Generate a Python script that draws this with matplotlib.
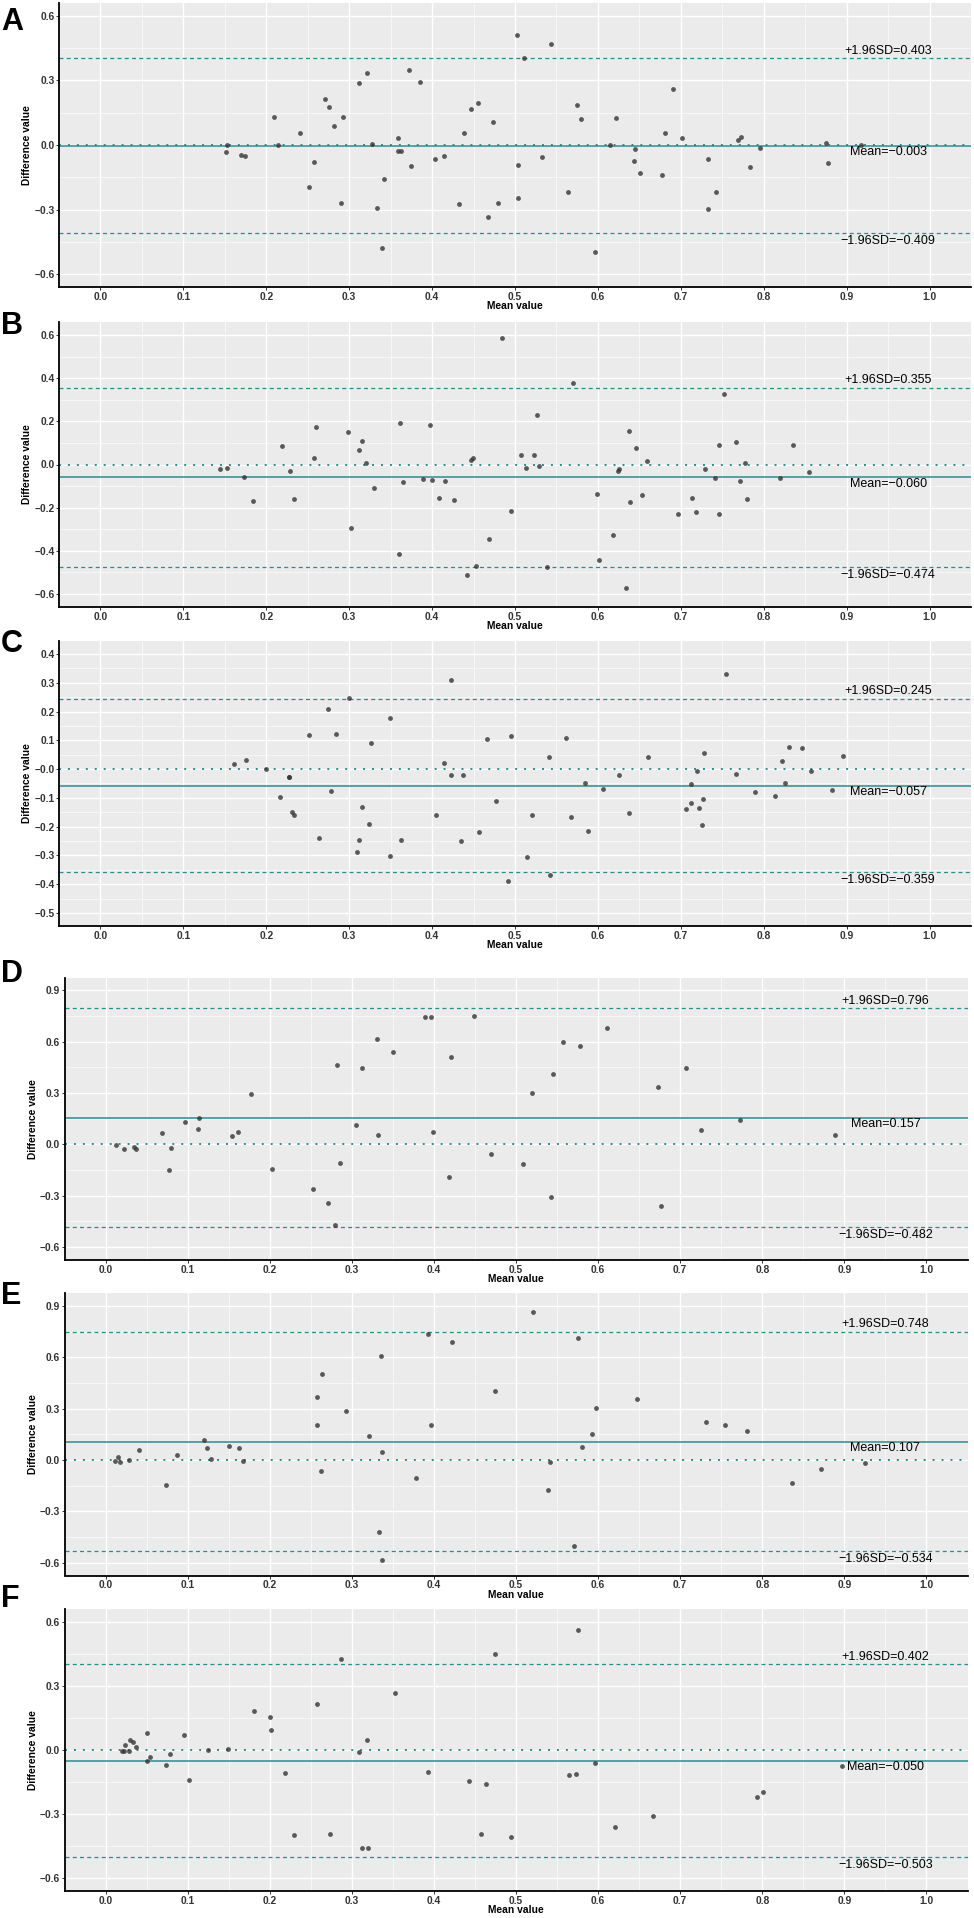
"""Bland-Altman agreement plots, panels A-F."""

from __future__ import annotations

import matplotlib

matplotlib.use("Agg")

import matplotlib.pyplot as plt
import numpy as np

plt.rcParams["font.family"] = ["Liberation Sans", "DejaVu Sans"]

W, H, DPI = 974, 1918, 100
TEAL = "#2B8C8C"
PANEL_BG = "#EBEBEB"
TEXT_GREY = "#333333"

# ---- data --------------------------------------------------------------------
A_MEAN = [0.151, 0.153, 0.169, 0.174, 0.209, 0.214, 0.241, 0.251, 0.257, 0.271,
          0.276, 0.282, 0.290, 0.292, 0.312, 0.322, 0.328, 0.333, 0.339, 0.342,
          0.359, 0.359, 0.363, 0.372, 0.374, 0.385, 0.403, 0.414, 0.433, 0.439,
          0.447, 0.455, 0.468, 0.473, 0.480, 0.503, 0.504, 0.504, 0.511, 0.533,
          0.543, 0.564, 0.575, 0.580, 0.596, 0.614, 0.622, 0.643, 0.645, 0.651,
          0.677, 0.681, 0.690, 0.702, 0.733, 0.733, 0.743, 0.769, 0.773, 0.784,
          0.795, 0.875, 0.878, 0.917]
A_DIFF = [-0.034, -0.002, -0.045, -0.052, 0.131, 0.002, 0.058, -0.194, -0.080, 0.214,
          0.175, 0.086, -0.271, 0.129, 0.289, 0.335, 0.006, -0.294, -0.478, -0.160,
          0.031, -0.026, -0.029, 0.348, -0.098, 0.292, -0.066, -0.051, -0.274, 0.054,
          0.169, 0.194, -0.335, 0.106, -0.270, 0.511, -0.095, -0.248, 0.406, -0.055,
          0.468, -0.218, 0.185, 0.123, -0.495, 0.002, 0.125, -0.074, -0.018, -0.132,
          -0.138, 0.058, 0.260, 0.034, -0.066, -0.298, -0.220, 0.025, 0.038, -0.103,
          -0.012, 0.011, -0.082, 0.000]

B_MEAN = [0.144, 0.153, 0.173, 0.184, 0.219, 0.229, 0.233, 0.257, 0.260, 0.299,
          0.302, 0.312, 0.316, 0.320, 0.330, 0.360, 0.361, 0.365, 0.389, 0.398,
          0.400, 0.408, 0.416, 0.427, 0.442, 0.447, 0.449, 0.453, 0.469, 0.484,
          0.495, 0.507, 0.513, 0.523, 0.527, 0.529, 0.538, 0.570, 0.599, 0.601,
          0.618, 0.624, 0.626, 0.634, 0.637, 0.639, 0.646, 0.653, 0.659, 0.696,
          0.713, 0.718, 0.729, 0.741, 0.746, 0.746, 0.752, 0.767, 0.771, 0.778,
          0.780, 0.820, 0.835, 0.855]
B_DIFF = [-0.020, -0.014, -0.056, -0.170, 0.085, -0.029, -0.162, 0.028, 0.176, 0.151,
          -0.295, 0.065, 0.109, 0.009, -0.111, -0.413, 0.193, -0.080, -0.065, 0.184,
          -0.072, -0.156, -0.076, -0.163, -0.512, 0.019, 0.031, -0.469, -0.345, 0.586,
          -0.214, 0.046, -0.014, 0.046, 0.228, -0.008, -0.476, 0.378, -0.136, -0.443,
          -0.327, -0.032, -0.023, -0.572, 0.153, -0.174, 0.076, -0.139, 0.014, -0.227,
          -0.154, -0.222, -0.020, -0.063, 0.091, -0.228, 0.327, 0.105, -0.077, 0.006,
          -0.162, -0.063, 0.089, -0.037]

C_MEAN = [0.161, 0.176, 0.200, 0.216, 0.228, 0.228, 0.231, 0.234, 0.251, 0.264,
          0.275, 0.278, 0.284, 0.300, 0.309, 0.312, 0.315, 0.324, 0.326, 0.349,
          0.349, 0.362, 0.405, 0.414, 0.423, 0.423, 0.435, 0.437, 0.457, 0.466,
          0.477, 0.492, 0.495, 0.514, 0.520, 0.541, 0.542, 0.562, 0.567, 0.584,
          0.588, 0.606, 0.625, 0.637, 0.660, 0.706, 0.712, 0.712, 0.720, 0.722,
          0.725, 0.727, 0.728, 0.754, 0.766, 0.789, 0.813, 0.822, 0.826, 0.830,
          0.846, 0.857, 0.882, 0.896]
C_DIFF = [0.016, 0.033, 0.001, -0.096, -0.029, -0.029, -0.150, -0.158, 0.119, -0.240,
          0.208, -0.076, 0.121, 0.246, -0.288, -0.247, -0.133, -0.191, 0.092, 0.176,
          -0.302, -0.246, -0.161, 0.020, 0.310, -0.020, -0.250, -0.022, -0.217, 0.106,
          -0.112, -0.388, 0.115, -0.305, -0.161, 0.043, -0.367, 0.108, -0.168, -0.047,
          -0.216, -0.069, -0.022, -0.153, 0.042, -0.138, -0.051, -0.119, -0.005, -0.134,
          -0.193, -0.105, 0.055, 0.331, -0.017, -0.081, -0.095, 0.027, -0.048, 0.078,
          0.075, -0.007, -0.074, 0.046]

D_MEAN = [0.013, 0.022, 0.035, 0.037, 0.069, 0.077, 0.080, 0.097, 0.113, 0.114,
          0.154, 0.161, 0.177, 0.203, 0.253, 0.271, 0.280, 0.282, 0.286, 0.305,
          0.313, 0.331, 0.332, 0.350, 0.389, 0.396, 0.399, 0.418, 0.421, 0.449,
          0.469, 0.509, 0.519, 0.543, 0.545, 0.557, 0.578, 0.611, 0.673, 0.677,
          0.707, 0.725, 0.773, 0.888]
D_DIFF = [-0.006, -0.027, -0.016, -0.027, 0.066, -0.150, -0.021, 0.131, 0.092, 0.154,
          0.047, 0.074, 0.296, -0.142, -0.261, -0.341, -0.473, 0.464, -0.111, 0.113,
          0.448, 0.614, 0.058, 0.540, 0.744, 0.744, 0.070, -0.193, 0.512, 0.750,
          -0.058, -0.113, 0.300, -0.306, 0.413, 0.596, 0.575, 0.682, 0.337, -0.358,
          0.448, 0.086, 0.144, 0.058]

E_MEAN = [0.011, 0.015, 0.017, 0.028, 0.041, 0.074, 0.087, 0.120, 0.123, 0.129,
          0.150, 0.162, 0.168, 0.257, 0.258, 0.263, 0.264, 0.293, 0.321, 0.333,
          0.335, 0.337, 0.337, 0.378, 0.393, 0.397, 0.422, 0.475, 0.521, 0.539,
          0.541, 0.571, 0.575, 0.580, 0.592, 0.598, 0.647, 0.732, 0.755, 0.781,
          0.836, 0.872, 0.925]
E_DIFF = [-0.006, 0.018, -0.012, -0.002, 0.060, -0.146, 0.031, 0.115, 0.072, 0.006,
          0.082, 0.072, -0.008, 0.206, 0.366, -0.066, 0.500, 0.286, 0.140, -0.422,
          0.605, -0.586, 0.049, -0.107, 0.735, 0.202, 0.691, 0.405, 0.862, -0.173,
          -0.012, -0.500, 0.710, 0.078, 0.154, 0.305, 0.354, 0.220, 0.202, 0.167,
          -0.136, -0.054, -0.018]

F_MEAN = [0.020, 0.022, 0.024, 0.028, 0.030, 0.033, 0.037, 0.051, 0.051, 0.054,
          0.074, 0.078, 0.096, 0.102, 0.125, 0.149, 0.181, 0.200, 0.201, 0.219,
          0.230, 0.257, 0.273, 0.287, 0.309, 0.312, 0.319, 0.320, 0.352, 0.393,
          0.443, 0.457, 0.464, 0.474, 0.494, 0.564, 0.573, 0.576, 0.596, 0.621,
          0.667, 0.793, 0.801, 0.897]
F_DIFF = [-0.005, -0.006, 0.025, -0.005, 0.045, 0.039, 0.014, 0.081, -0.050, -0.034,
          -0.070, -0.017, 0.072, -0.139, 0.000, 0.006, 0.184, 0.153, 0.095, -0.106,
          -0.400, 0.215, -0.394, 0.425, -0.008, -0.459, 0.047, -0.458, 0.266, -0.104,
          -0.145, -0.394, -0.159, 0.448, -0.405, -0.117, -0.112, 0.563, -0.059, -0.361,
          -0.307, -0.219, -0.198, -0.073]

PANEL_NAMES = ["A", "B", "C", "D", "E", "F"]
BIAS = [-0.003, -0.060, -0.057, 0.157, 0.107, -0.050]
UPPER_LOA = [0.403, 0.355, 0.245, 0.796, 0.748, 0.402]
LOWER_LOA = [-0.409, -0.474, -0.359, -0.482, -0.534, -0.503]
Y_RANGE = [(-0.6, 0.6), (-0.6, 0.6), (-0.5, 0.4), (-0.6, 0.9), (-0.6, 0.9), (-0.6, 0.6)]
Y_STEP = [0.3, 0.2, 0.1, 0.3, 0.3, 0.3]

# axes boxes in pixels: left, right, top, bottom, y-label centre x, panel letter baseline
BOXES = [
    (59.0, 971.0, 3.0, 287.0, 27.5, 29.5),
    (59.0, 971.0, 322.0, 607.0, 27.5, 333.5),
    (59.0, 971.0, 641.0, 926.0, 27.5, 651.5),
    (64.5, 967.5, 977.5, 1260.0, 33.5, 982.5),
    (64.5, 967.5, 1293.0, 1575.5, 33.5, 1304.0),
    (64.5, 967.5, 1609.0, 1891.0, 33.5, 1607.0),
]


def _fmt(value: float) -> str:
    return f"{value:.3f}".replace("-", "\u2212")


def _expand(lo: float, hi: float, frac: float = 0.05) -> tuple[float, float]:
    pad = (hi - lo) * frac
    return lo - pad, hi + pad


def _plot_panel(fig, box, name, x, y, bias, upper, lower, y_range, y_step) -> None:
    left, right, top, bottom, ylab_x, letter_y = box
    ax = fig.add_axes([left / W, 1 - bottom / H, (right - left) / W, (bottom - top) / H])
    ax.set_facecolor(PANEL_BG)

    ax.set_xlim(*_expand(0.0, 1.0))
    ax.set_ylim(*_expand(*y_range))

    x_major = np.round(np.arange(0.0, 1.0001, 0.1), 2)
    x_minor = np.round(np.arange(0.05, 1.0, 0.1), 3)
    y_major = np.round(np.arange(y_range[0], y_range[1] + 1e-6, y_step), 3)
    y_minor = (y_major[:-1] + y_major[1:]) / 2
    ax.set_xticks(x_major)
    ax.set_xticks(x_minor, minor=True)
    ax.set_yticks(y_major)
    ax.set_yticks(y_minor, minor=True)
    ax.set_xticklabels([f"{v:.1f}" for v in x_major])
    ax.set_yticklabels([f"{v:.1f}".replace("-", "\u2212") for v in y_major])

    ax.grid(which="major", color="white", linewidth=1.0)
    ax.grid(which="minor", color="white", linewidth=0.5, alpha=0.8)
    ax.set_axisbelow(True)

    for side in ("top", "right"):
        ax.spines[side].set_visible(False)
    for side in ("left", "bottom"):
        ax.spines[side].set_color("black")
        ax.spines[side].set_linewidth(1.3)

    ax.tick_params(which="major", length=2.0, width=0.7, color=TEXT_GREY, pad=1.3,
                   labelsize=7.4, labelcolor=TEXT_GREY)
    ax.tick_params(which="minor", length=0)
    for lab in ax.get_xticklabels() + ax.get_yticklabels():
        lab.set_fontweight("bold")

    ax.axhline(0.0, color=TEAL, linewidth=1.4, dashes=(1, 3.6), zorder=2)
    ax.axhline(bias, color=TEAL, linewidth=1.1, zorder=2)
    ax.axhline(upper, color=TEAL, linewidth=0.9, dashes=(3.2, 2.6), zorder=2)
    ax.axhline(lower, color=TEAL, linewidth=0.9, dashes=(3.2, 2.6), zorder=2)

    ax.scatter(x, y, s=12, color="#333333", alpha=0.8, linewidths=0, zorder=3)

    labels = [
        (upper, f"+1.96SD={_fmt(upper)}", 7.5),
        (bias, f"Mean={_fmt(bias)}", -6.5),
        (lower, f"\u22121.96SD={_fmt(lower)}", -8.0),
    ]
    for level, text, offset in labels:
        ax.annotate(text, xy=(0.95, level), xytext=(0, offset), textcoords="offset pixels",
                    ha="center", va="center", fontsize=9, color="black", zorder=4)

    ax.text(0.5, -19.0 / (bottom - top), "Mean value", transform=ax.transAxes,
            ha="center", va="center", fontsize=7.4, fontweight="bold", color="black")
    ax.text((ylab_x - left) / (right - left), 0.5, "Difference value", transform=ax.transAxes,
            ha="center", va="center", rotation=90, fontsize=7.4, fontweight="bold",
            color="black")

    fig.text(1.0 / W, 1 - letter_y / H, name, ha="left", va="baseline",
             fontsize=22, fontweight="bold", color="black")


def main() -> int:
    fig = plt.figure(figsize=(W / DPI, H / DPI), dpi=DPI)
    fig.patch.set_facecolor("white")

    series = [
        (A_MEAN, A_DIFF),
        (B_MEAN, B_DIFF),
        (C_MEAN, C_DIFF),
        (D_MEAN, D_DIFF),
        (E_MEAN, E_DIFF),
        (F_MEAN, F_DIFF),
    ]
    for i, (x, y) in enumerate(series):
        _plot_panel(fig, BOXES[i], PANEL_NAMES[i], x, y, BIAS[i], UPPER_LOA[i],
                    LOWER_LOA[i], Y_RANGE[i], Y_STEP[i])

    fig.savefig("out.png", dpi=DPI)
    plt.close(fig)
    return 0


if __name__ == "__main__":
    raise SystemExit(main())
